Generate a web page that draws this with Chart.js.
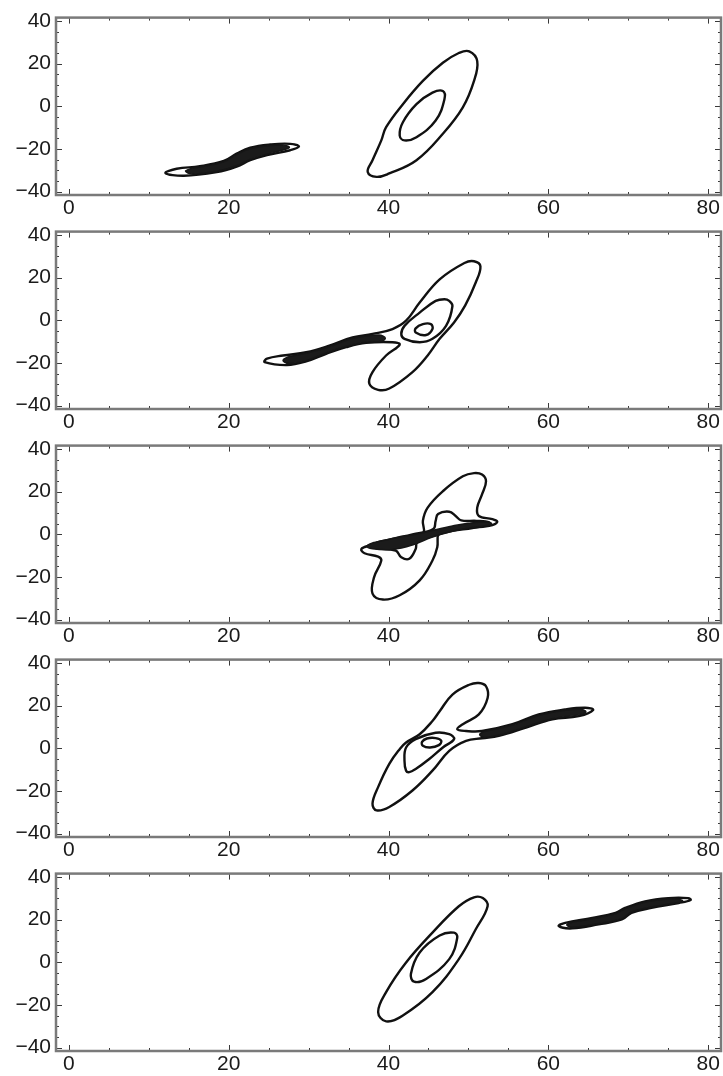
<!DOCTYPE html>
<html>
<head>
<meta charset="utf-8">
<script src="https://cdn.jsdelivr.net/npm/chart.js@4.4.0/dist/chart.umd.min.js"></script>
<style>
  body { margin: 0; background: #fff; width: 723px; height: 1076px; position: relative; overflow: hidden; }
  canvas { position: absolute; left: 0; }
</style>
</head>
<body>
<canvas id="p0" width="723" height="222" style="top:0px"></canvas>
<canvas id="p1" width="723" height="222" style="top:214px"></canvas>
<canvas id="p2" width="723" height="222" style="top:428px"></canvas>
<canvas id="p3" width="723" height="222" style="top:642px"></canvas>
<canvas id="p4" width="723" height="222" style="top:856px"></canvas>
<script>
// axis setup
var xTickLabels = [0, 20, 40, 60, 80];
var yTickLabels = [-40, -20, 0, 20, 40];
var xRange = [-1.6, 81.6];
var yRange = [-41.6, 41.6];

// --- panel 1 ---
var p1BandOuter = [[12.1,-31.3],[14.4,-32.6],[18.5,-30.9],[21.0,-28.3],[22.7,-25.3],[24.8,-22.9],[27.7,-20.6],[28.8,-18.9],[27.7,-17.6],[25.2,-17.9],[22.7,-19.4],[21.0,-22.2],[19.4,-25.6],[16.4,-28.1],[13.5,-29.3]];
var p1BandCore = [[15.5,-28.9],[16.4,-28.5],[19.4,-26.0],[21.0,-22.7],[22.7,-19.9],[25.2,-18.4],[26.8,-18.2],[27.6,-19.3],[26.8,-20.5],[24.8,-22.5],[22.7,-24.9],[21.0,-27.9],[18.5,-30.5],[15.5,-31.7],[14.6,-30.4]];
var p1Outer = [[38.5,-33.1],[40.1,-31.5],[43.5,-25.3],[46.8,-12.9],[49.3,-0.5],[50.7,11.9],[51.1,21.2],[50.1,25.8],[48.8,25.0],[46.8,20.4],[44.3,11.9],[41.8,1.0],[39.7,-9.8],[39.1,-16.0],[38.0,-25.3],[37.4,-30.8]];
var p1Inner = [[42.0,-16.0],[43.5,-14.5],[45.9,-6.7],[47.0,3.3],[46.8,7.2],[45.5,6.4],[43.5,1.0],[41.8,-7.5],[41.4,-13.7]];

// --- panel 2 ---
var p2Outer = [[24.5,-19.6],[27.3,-21.0],[29.7,-19.3],[32.2,-15.7],[34.7,-12.6],[37.2,-10.6],[40.5,-10.3],[41.4,-11.4],[39.7,-16.5],[38.0,-24.3],[37.6,-29.7],[38.7,-32.6],[40.1,-32.0],[43.0,-24.3],[44.9,-16.5],[46.4,-8.7],[48.2,-1.0],[49.6,7.0],[50.9,17.6],[51.5,25.3],[50.7,27.7],[49.5,26.9],[46.4,19.2],[43.9,8.3],[42.2,-0.2],[40.5,-4.1],[38.0,-6.4],[35.5,-8.0],[32.6,-11.9],[29.7,-15.0],[26.8,-16.5],[24.8,-18.0]];
var p2Mid = [[43.9,-10.3],[45.5,-8.7],[47.2,-2.6],[48.0,6.7],[47.6,9.1],[47.0,9.9],[45.9,9.1],[43.9,3.6],[42.0,-2.6],[41.6,-6.4],[42.0,-8.7]];
var p2Inner = [[43.4,-5.7],[44.7,-6.9],[45.5,-4.1],[45.3,-1.8],[44.3,-1.8],[43.4,-3.8]];
var p2BandCore = [[27.5,-17.0],[29.7,-15.5],[32.6,-12.4],[35.5,-8.5],[38.8,-6.9],[39.6,-8.4],[38.8,-10.0],[37.2,-10.2],[34.7,-12.2],[32.2,-15.3],[29.7,-18.9],[27.5,-20.2],[26.8,-18.7]];

// --- panel 3 ---
var p3Outer = [[50.7,28.7],[51.7,28.0],[52.2,24.9],[51.7,18.7],[51.1,12.5],[51.3,8.6],[53.0,7.1],[53.6,5.8],[52.6,4.0],[49.7,2.9],[47.5,1.8],[46.3,0.5],[46.1,-6.1],[45.5,-12.3],[43.9,-21.6],[41.4,-28.6],[39.3,-30.6],[38.0,-27.8],[38.2,-20.1],[39.1,-12.3],[38.7,-10.5],[37.0,-8.9],[36.6,-6.9],[37.6,-5.3],[40.5,-3.0],[43.4,-0.7],[44.4,1.0],[44.3,6.3],[44.9,12.5],[46.8,20.2],[49.3,27.2]];
var p3Mid = [[52.6,5.6],[51.0,6.3],[49.1,6.5],[48.4,8.6],[47.6,10.6],[46.2,9.5],[45.9,6.3],[45.6,2.5],[43.0,0.0],[40.0,-2.6],[38.0,-4.8],[38.3,-6.4],[40.9,-7.6],[41.6,-10.8],[42.6,-11.5],[43.4,-6.9],[43.6,-3.8],[45.5,-0.8],[48.0,1.6],[50.5,2.9],[52.3,4.4]];
var p3BandCore = [[38.0,-4.0],[40.5,-2.0],[43.0,-0.3],[45.5,1.8],[48.0,3.9],[50.0,5.2],[52.2,5.8],[52.9,5.0],[52.2,4.1],[50.0,2.9],[48.0,1.4],[45.5,-1.3],[43.0,-5.0],[40.5,-7.1],[38.0,-6.8],[37.3,-5.5]];

// --- panel 4 ---
var p4Outer = [[51.3,30.6],[52.2,29.1],[52.4,23.6],[51.3,15.9],[49.3,11.3],[48.6,8.9],[49.7,8.1],[51.7,8.1],[55.5,11.3],[58.8,15.9],[62.1,18.2],[64.6,19.0],[65.6,18.0],[63.8,15.1],[60.5,13.6],[57.2,9.7],[53.8,5.8],[51.7,4.7],[49.7,3.5],[47.6,-1.2],[45.5,-10.5],[43.0,-19.8],[40.1,-27.5],[38.5,-29.1],[38.0,-25.9],[38.7,-18.2],[40.1,-7.3],[41.4,-0.4],[42.2,2.7],[43.9,6.6],[45.5,12.8],[46.4,17.4],[48.0,25.2],[50.1,29.8]];
var p4Mid = [[42.6,-11.2],[43.4,-9.7],[45.1,-5.0],[46.8,0.4],[48.2,4.3],[47.6,6.6],[45.9,7.3],[43.4,4.3],[42.2,0.4],[42.0,-5.8],[42.2,-10.5]];
var p4Inner = [[44.3,1.2],[45.2,0.4],[46.3,1.5],[46.6,3.5],[45.9,4.8],[44.8,4.6],[44.2,3.0]];
var p4BandCore = [[52.0,7.9],[55.5,10.9],[58.8,15.4],[62.1,17.8],[64.0,18.3],[64.7,17.1],[64.0,15.8],[60.5,13.9],[57.2,10.1],[53.8,6.2],[52.0,5.2],[51.4,6.5]];

// --- panel 5 ---
var p5Outer = [[39.7,-27.7],[41.8,-24.9],[45.5,-14.0],[48.8,1.5],[50.9,15.4],[52.4,26.3],[51.8,30.1],[50.7,30.5],[48.8,26.3],[45.5,13.9],[42.2,-0.1],[39.7,-14.0],[38.7,-23.3]];
var p5Inner = [[43.2,-9.1],[44.7,-7.8],[47.6,1.5],[48.6,11.5],[48.2,13.9],[46.4,12.6],[43.9,4.6],[42.8,-5.5]];
var p5BandOuter = [[61.3,17.0],[62.1,18.5],[65.5,20.8],[68.4,23.2],[69.6,25.5],[72.1,28.6],[75.0,30.1],[77.5,30.1],[77.8,29.2],[76.3,27.8],[72.9,25.5],[70.4,23.2],[69.2,20.1],[66.3,17.8],[63.0,15.9]];
var p5BandCore = [[63.0,18.9],[65.5,20.4],[68.4,22.8],[69.6,25.1],[72.1,28.2],[75.0,29.7],[76.2,29.6],[76.8,28.9],[76.2,28.0],[72.9,25.9],[70.4,23.6],[69.2,20.5],[66.3,18.2],[63.0,16.4],[62.3,17.6]];

var panels = [
  { lines: [p1BandOuter, p1Outer, p1Inner], cores: [p1BandCore] },
  { lines: [p2Outer, p2Mid, p2Inner], cores: [p2BandCore] },
  { lines: [p3Outer, p3Mid], cores: [p3BandCore] },
  { lines: [p4Outer, p4Mid, p4Inner], cores: [p4BandCore] },
  { lines: [p5Outer, p5Inner, p5BandOuter], cores: [p5BandCore] }
];

// wrap a ring so the spline has neighbours at the seam: [last, p0..pn, p0, p1]
function ring(pts) {
  var n = pts.length;
  var seq = [pts[n - 1]].concat(pts, [pts[0], pts[1]]);
  return seq.map(function(p) { return { x: p[0], y: p[1] }; });
}

// hide the two padding segments at either end of a wrapped ring
function seamColor(color, len) {
  return function(ctx) {
    return (ctx.p0DataIndex === 0 || ctx.p1DataIndex === len - 1) ? 'rgba(0,0,0,0)' : color;
  };
}

function fmt(v) {
  return v < 0 ? '\u2212' + Math.abs(v) : String(v);
}

// frame with inward ticks on all four sides
var framePlugin = {
  id: 'frame',
  afterDatasetsDraw: function(chart) {
    var ctx = chart.ctx, a = chart.chartArea;
    var xs = chart.scales.x, ys = chart.scales.y;
    ctx.save();
    ctx.strokeStyle = '#3a3a3a';
    ctx.lineWidth = 1;
    ctx.beginPath();
    for (var v = 0; v <= 80; v += 5) {
      var px = Math.round(xs.getPixelForValue(v)) + 0.5;
      var len = v % 20 === 0 ? 6 : 3;
      ctx.moveTo(px, a.bottom); ctx.lineTo(px, a.bottom - len);
      ctx.moveTo(px, a.top); ctx.lineTo(px, a.top + len);
    }
    for (var w = -40; w <= 40; w += 5) {
      var py = Math.round(ys.getPixelForValue(w)) + 0.5;
      var l2 = w % 20 === 0 ? 6 : 3;
      ctx.moveTo(a.left, py); ctx.lineTo(a.left + l2, py);
      ctx.moveTo(a.right, py); ctx.lineTo(a.right - l2, py);
    }
    ctx.stroke();
    ctx.strokeStyle = '#7a7a7a';
    ctx.lineWidth = 2.5;
    ctx.strokeRect(a.left, a.top, a.right - a.left, a.bottom - a.top);
    ctx.restore();
  }
};

var tickFont = { family: '"Liberation Sans", Arial, sans-serif', size: 21 };

panels.forEach(function(panel, i) {
  var datasets = [];
  panel.cores.forEach(function(c) {
    datasets.push({
      data: c.map(function(p) { return { x: p[0], y: p[1] }; }).concat([{ x: c[0][0], y: c[0][1] }]),
      showLine: true, pointRadius: 0, tension: 0.4,
      borderColor: '#161616', borderWidth: 1.5, backgroundColor: '#1b1b1b', fill: 'shape'
    });
  });
  panel.lines.forEach(function(c) {
    var d = ring(c);
    datasets.push({
      data: d, showLine: true, pointRadius: 0, tension: 0.4,
      borderColor: '#111', borderWidth: 2.4, fill: false,
      segment: { borderColor: seamColor('#111', d.length) }
    });
  });

  new Chart(document.getElementById('p' + i), {
    type: 'scatter',
    data: { datasets: datasets },
    options: {
      responsive: false,
      animation: false,
      events: [],
      layout: { padding: { top: 16, right: 2, left: 0, bottom: 0 } },
      plugins: { legend: { display: false }, tooltip: { enabled: false } },
      scales: {
        x: {
          type: 'linear', min: xRange[0], max: xRange[1],
          grid: { drawOnChartArea: false, drawTicks: false },
          border: { display: false },
          afterBuildTicks: function(s) { s.ticks = xTickLabels.map(function(v) { return { value: v }; }); },
          afterFit: function(s) { s.height = 27; },
          ticks: { font: tickFont, color: '#1a1a1a', padding: 1, maxRotation: 0, autoSkip: false, callback: fmt }
        },
        y: {
          type: 'linear', min: yRange[0], max: yRange[1],
          grid: { drawOnChartArea: false, drawTicks: false },
          border: { display: false },
          afterBuildTicks: function(s) { s.ticks = yTickLabels.map(function(v) { return { value: v }; }); },
          afterFit: function(s) { s.width = 56; },
          ticks: { font: tickFont, color: '#1a1a1a', padding: 5, autoSkip: false, callback: fmt }
        }
      }
    },
    plugins: [framePlugin]
  });
});
</script>
</body>
</html>
